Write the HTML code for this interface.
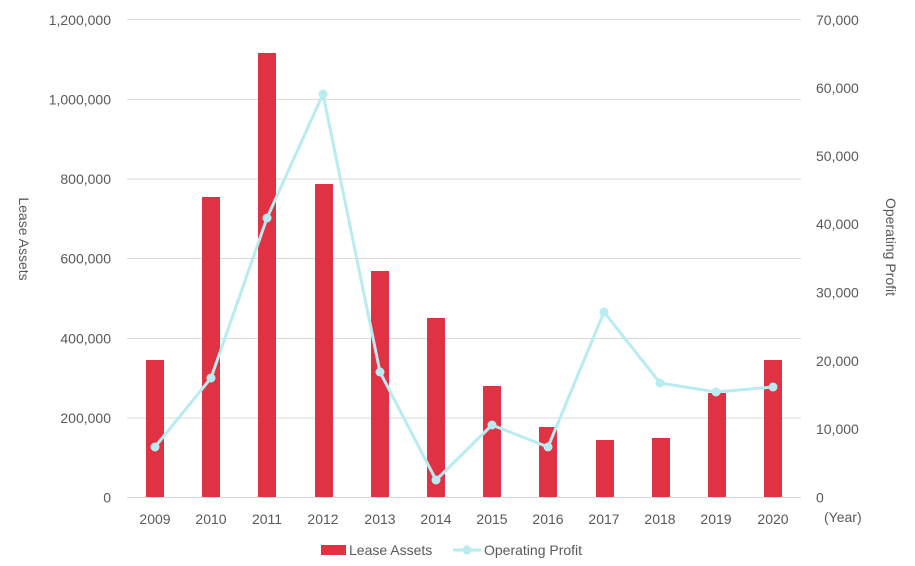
<!DOCTYPE html>
<html><head><meta charset="utf-8"><style>
body{margin:0;background:#fff}
svg{display:block;font-family:"Liberation Sans",sans-serif;}
text{fill:#595959;font-size:14px}
</style></head><body>
<svg width="915" height="566" viewBox="0 0 915 566">
<g stroke="#d9d9d9" stroke-width="1">
<line x1="127" x2="801" y1="19.5" y2="19.5"/>
<line x1="127" x2="801" y1="99.5" y2="99.5"/>
<line x1="127" x2="801" y1="179" y2="179"/>
<line x1="127" x2="801" y1="258.5" y2="258.5"/>
<line x1="127" x2="801" y1="338.5" y2="338.5"/>
<line x1="127" x2="801" y1="418" y2="418"/>
<line x1="127" x2="801" y1="497.5" y2="497.5"/>
</g>
<g text-anchor="end">
<text x="111" y="25">1,200,000</text>
<text x="111" y="104.5">1,000,000</text>
<text x="111" y="184">800,000</text>
<text x="111" y="263.5">600,000</text>
<text x="111" y="343.5">400,000</text>
<text x="111" y="423">200,000</text>
<text x="111" y="502.5">0</text>
</g>
<g text-anchor="start">
<text x="816" y="25">70,000</text>
<text x="816" y="93">60,000</text>
<text x="816" y="161">50,000</text>
<text x="816" y="229">40,000</text>
<text x="816" y="297.5">30,000</text>
<text x="816" y="366">20,000</text>
<text x="816" y="434">10,000</text>
<text x="816" y="502.5">0</text>
</g>
<text transform="translate(19,239) rotate(90)" text-anchor="middle" font-size="16.5">Lease Assets</text>
<text transform="translate(886,247) rotate(90)" text-anchor="middle" font-size="17.5">Operating Profit</text>
<g fill="#e03243">
<rect x="146" y="360" width="18" height="137"/>
<rect x="202" y="197" width="18" height="300"/>
<rect x="258" y="53" width="18" height="444"/>
<rect x="315" y="184" width="18" height="313"/>
<rect x="371" y="271" width="18" height="226"/>
<rect x="427" y="318" width="18" height="179"/>
<rect x="483" y="386" width="18" height="111"/>
<rect x="539" y="427" width="18" height="70"/>
<rect x="596" y="440" width="18" height="57"/>
<rect x="652" y="438" width="18" height="59"/>
<rect x="708" y="393" width="18" height="104"/>
<rect x="764" y="360" width="18" height="137"/>
</g>
<polyline fill="none" stroke="#b8ecf0" stroke-width="3" stroke-linejoin="round" points="155,447 211,378 267,218 323,94 380,372 436,480 492,425 548,447 604,312 660,383 716,392 773,387"/>
<g fill="#b8ecf0">
<circle cx="155" cy="447" r="4.5"/><circle cx="211" cy="378" r="4.5"/><circle cx="267" cy="218" r="4.5"/><circle cx="323" cy="94" r="4.5"/><circle cx="380" cy="372" r="4.5"/><circle cx="436" cy="480" r="4.5"/><circle cx="492" cy="425" r="4.5"/><circle cx="548" cy="447" r="4.5"/><circle cx="604" cy="312" r="4.5"/><circle cx="660" cy="383" r="4.5"/><circle cx="716" cy="392" r="4.5"/><circle cx="773" cy="387" r="4.5"/>
</g>
<g text-anchor="middle">
<text x="155" y="524">2009</text><text x="211" y="524">2010</text><text x="267" y="524">2011</text><text x="323" y="524">2012</text><text x="380" y="524">2013</text><text x="436" y="524">2014</text><text x="492" y="524">2015</text><text x="548" y="524">2016</text><text x="604" y="524">2017</text><text x="660" y="524">2018</text><text x="716" y="524">2019</text><text x="773" y="524">2020</text>
</g>
<text x="824" y="522" font-size="13">(Year)</text>
<rect x="321" y="545" width="25" height="10" fill="#e03243"/>
<text x="349" y="555">Lease Assets</text>
<line x1="453" x2="481" y1="550" y2="550" stroke="#b8ecf0" stroke-width="3"/>
<circle cx="467" cy="550" r="4.5" fill="#b8ecf0"/>
<text x="484" y="555">Operating Profit</text>
</svg>
</body></html>
